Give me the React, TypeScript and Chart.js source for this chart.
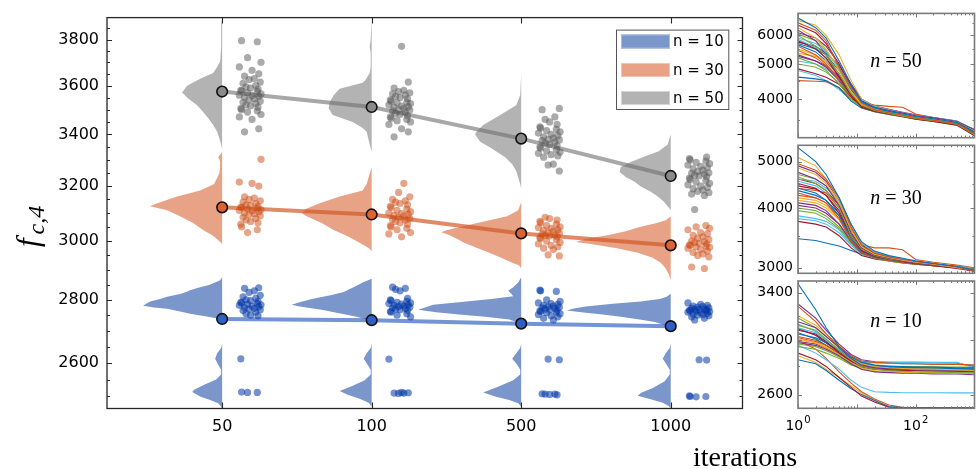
import React, { useEffect, useRef } from "react";
import { Chart, registerables } from "chart.js";
Chart.register(...registerables);
Chart.defaults.font.family = "DejaVu Sans";

const W = 978;
const H = 469;

// ---------------- main chart data ----------------
const ITERATIONS = ["50", "100", "500", "1000"];
const Y_TICKS = [2600, 2800, 3000, 3200, 3400, 3600, 3800];
const SERIES_LABELS = ["n = 10", "n = 30", "n = 50"];

const MEAN_N10 = [2738, 2734, 2723, 2715];
const MEAN_N30 = [3121, 3095, 3027, 2985];
const MEAN_N50 = [3575, 3511, 3383, 3238];

const RUNS_N50_IT50 = [3795, 3790, 3720, 3700, 3680, 3665, 3650, 3640, 3630, 3625, 3615, 3610, 3600, 3595, 3590, 3585, 3580, 3578, 3575, 3570, 3565, 3560, 3558, 3555, 3550, 3545, 3540, 3535, 3530, 3525, 3520, 3515, 3510, 3505, 3500, 3495, 3490, 3480, 3470, 3460, 3422, 3410];
const RUNS_N50_IT100 = [3770, 3615, 3590, 3580, 3575, 3570, 3565, 3560, 3555, 3550, 3545, 3540, 3535, 3530, 3528, 3525, 3520, 3515, 3512, 3510, 3505, 3500, 3498, 3495, 3490, 3485, 3480, 3475, 3470, 3465, 3460, 3455, 3450, 3440, 3422, 3410, 3390];
const RUNS_N50_IT500 = [3505, 3500, 3470, 3460, 3450, 3440, 3430, 3425, 3420, 3415, 3410, 3405, 3400, 3395, 3390, 3385, 3380, 3378, 3375, 3370, 3365, 3360, 3355, 3350, 3345, 3340, 3335, 3330, 3325, 3320, 3315, 3310, 3283, 3280, 3257];
const RUNS_N50_IT1000 = [3310, 3305, 3300, 3295, 3290, 3285, 3280, 3275, 3270, 3265, 3260, 3255, 3250, 3248, 3245, 3240, 3238, 3235, 3230, 3225, 3220, 3215, 3210, 3205, 3200, 3195, 3190, 3185, 3180, 3175, 3170, 3165, 3113];

const RUNS_N30_IT50 = [3302, 3215, 3210, 3200, 3160, 3155, 3150, 3145, 3140, 3135, 3130, 3128, 3125, 3122, 3120, 3118, 3115, 3112, 3110, 3108, 3105, 3100, 3098, 3095, 3090, 3085, 3080, 3075, 3070, 3065, 3060, 3050, 3040, 3030];
const RUNS_N30_IT100 = [3210, 3176, 3160, 3150, 3145, 3140, 3135, 3130, 3125, 3120, 3115, 3110, 3105, 3100, 3098, 3095, 3092, 3090, 3085, 3080, 3078, 3075, 3070, 3065, 3060, 3055, 3050, 3045, 3040, 3030, 3025, 3015];
const RUNS_N30_IT500 = [3085, 3080, 3075, 3070, 3065, 3060, 3055, 3050, 3048, 3045, 3040, 3038, 3035, 3030, 3028, 3025, 3022, 3020, 3018, 3015, 3012, 3010, 3005, 3000, 2995, 2990, 2985, 2980, 2975, 2970, 2952, 2948];
const RUNS_N30_IT1000 = [3055, 3050, 3045, 3040, 3030, 3025, 3020, 3015, 3010, 3005, 3000, 2998, 2995, 2992, 2990, 2987, 2985, 2982, 2980, 2978, 2975, 2970, 2965, 2960, 2955, 2950, 2945, 2910, 2905];

const RUNS_N10_IT50 = [2840, 2838, 2830, 2825, 2815, 2810, 2805, 2800, 2798, 2795, 2792, 2790, 2788, 2786, 2784, 2782, 2780, 2778, 2775, 2772, 2770, 2768, 2765, 2760, 2755, 2750, 2748, 2613, 2513, 2512, 2512];
const RUNS_N10_IT100 = [2842, 2838, 2835, 2830, 2805, 2800, 2798, 2795, 2792, 2790, 2788, 2786, 2784, 2782, 2780, 2778, 2776, 2774, 2772, 2770, 2768, 2765, 2762, 2760, 2755, 2750, 2745, 2612, 2512, 2511, 2510, 2510, 2509];
const RUNS_N10_IT500 = [2832, 2830, 2828, 2800, 2795, 2790, 2788, 2785, 2782, 2780, 2778, 2776, 2774, 2772, 2770, 2768, 2766, 2764, 2762, 2760, 2758, 2755, 2752, 2748, 2745, 2740, 2735, 2612, 2610, 2508, 2507, 2507, 2506, 2505];
const RUNS_N10_IT1000 = [2790, 2785, 2782, 2780, 2778, 2776, 2774, 2772, 2770, 2769, 2768, 2767, 2766, 2765, 2764, 2763, 2762, 2760, 2758, 2756, 2754, 2752, 2750, 2748, 2745, 2740, 2735, 2610, 2609, 2502, 2500, 2500, 2499];

// violin profiles: [value, density]
const VIOLIN_N50_IT50 = [[3900, 0], [3870, 1], [3769, 1], [3704, 2], [3680, 5], [3654, 9], [3629, 22], [3599, 35], [3571, 40], [3546, 34], [3518, 25], [3490, 19], [3466, 14], [3437, 9], [3410, 5], [3387, 3], [3360, 1], [3340, 0]];
const VIOLIN_N50_IT100 = [[3900, 0], [3800, 1], [3770, 2], [3740, 1], [3680, 1], [3654, 2], [3625, 6], [3612, 9], [3587, 32], [3560, 38], [3530, 42], [3506, 43], [3478, 39], [3450, 19], [3425, 9], [3410, 5], [3360, 2], [3330, 0]];
const VIOLIN_N50_IT500 = [[3650, 0], [3560, 1], [3518, 5], [3478, 21], [3437, 38], [3410, 45], [3398, 46], [3371, 41], [3348, 31], [3310, 16], [3283, 9], [3257, 5], [3208, 1], [3190, 0]];
const VIOLIN_N50_IT1000 = [[3400, 0], [3360, 3], [3333, 12], [3310, 28], [3291, 40], [3272, 50], [3253, 51], [3234, 45], [3216, 36], [3198, 30], [3179, 20], [3161, 13], [3142, 7], [3125, 3], [3110, 0]];

const VIOLIN_N30_IT50 = [[3330, 0], [3310, 4], [3295, 2], [3270, 2], [3246, 3], [3208, 8], [3183, 22], [3161, 45], [3136, 65], [3125, 72], [3110, 55], [3089, 42], [3064, 29], [3039, 19], [3019, 9], [2994, 1], [2985, 0]];
const VIOLIN_N30_IT100 = [[3270, 0], [3246, 2], [3208, 5], [3183, 9], [3161, 32], [3136, 52], [3115, 66], [3099, 70], [3089, 65], [3064, 50], [3039, 38], [3019, 25], [2994, 12], [2976, 3], [2965, 0]];
const VIOLIN_N30_IT500 = [[3140, 0], [3110, 3], [3089, 14], [3064, 44], [3039, 74], [3031, 80], [3021, 72], [3007, 64], [2994, 57], [2976, 44], [2959, 32], [2942, 20], [2925, 9], [2915, 2], [2905, 0]];
const VIOLIN_N30_IT1000 = [[3089, 0], [3074, 5], [3064, 14], [3049, 32], [3035, 45], [3021, 62], [3007, 85], [2997, 95], [2990, 80], [2976, 55], [2959, 33], [2942, 18], [2925, 10], [2905, 5], [2885, 2], [2865, 0]];

const VIOLIN_N10_IT50 = [[2875, 0], [2865, 2], [2849, 13], [2840, 24], [2832, 32], [2826, 36], [2819, 42], [2810, 55], [2803, 62], [2795, 72], [2787, 76], [2781, 79], [2775, 68], [2771, 55], [2762, 42], [2755, 32], [2745, 14], [2736, 0], [2660, 0], [2646, 1], [2630, 5], [2613, 7], [2595, 4], [2580, 1], [2565, 1], [2550, 6], [2535, 18], [2520, 28], [2513, 30], [2500, 22], [2490, 12], [2480, 4], [2470, 1], [2460, 0]];
const VIOLIN_N10_IT100 = [[2870, 0], [2858, 9], [2842, 18], [2836, 22], [2826, 28], [2816, 40], [2803, 60], [2792, 72], [2784, 80], [2778, 72], [2768, 50], [2755, 30], [2745, 15], [2735, 4], [2728, 0], [2660, 0], [2646, 1], [2630, 5], [2613, 8], [2595, 4], [2580, 1], [2565, 1], [2548, 7], [2530, 20], [2516, 32], [2505, 24], [2493, 12], [2482, 3], [2470, 0]];
const VIOLIN_N10_IT500 = [[2875, 0], [2858, 3], [2842, 8], [2830, 13], [2820, 10], [2812, 8], [2803, 30], [2795, 55], [2784, 88], [2768, 103], [2760, 85], [2752, 62], [2745, 36], [2736, 12], [2723, 0], [2660, 0], [2646, 1], [2630, 5], [2613, 9], [2595, 4], [2580, 1], [2565, 1], [2548, 8], [2530, 22], [2512, 38], [2500, 26], [2490, 12], [2480, 3], [2470, 0]];
const VIOLIN_N10_IT1000 = [[2820, 0], [2810, 4], [2803, 11], [2795, 30], [2787, 58], [2778, 85], [2771, 98], [2765, 104], [2758, 85], [2752, 68], [2745, 50], [2736, 31], [2728, 16], [2720, 8], [2708, 0], [2660, 0], [2646, 1], [2630, 5], [2613, 8], [2595, 4], [2580, 1], [2565, 1], [2545, 6], [2525, 18], [2510, 30], [2502, 33], [2492, 20], [2482, 8], [2472, 2], [2465, 0]];

// ---------------- inset panels data ----------------
const PANEL_ITERS = [1, 2, 3, 5, 8, 12, 20, 35, 60, 100, 200, 500, 1000];
const PANEL_X_TICKS = [1, 100];
const PANEL_X_EXPONENTS = ["0", "2"];

const CURVES_N50 = [
  [6700, 6300, 5900, 5100, 4400, 3950, 3780, 3700, 3640, 3580, 3530, 3450, 3250],
  [6500, 6200, 5800, 4900, 4300, 3900, 3740, 3670, 3610, 3550, 3500, 3420, 3210],
  [6300, 5900, 5500, 4800, 4200, 3870, 3760, 3690, 3630, 3570, 3520, 3450, 3260],
  [6100, 5900, 5600, 5000, 4350, 3950, 3800, 3720, 3660, 3600, 3550, 3470, 3290],
  [6000, 5600, 5300, 4700, 4150, 3850, 3720, 3650, 3590, 3540, 3490, 3410, 3190],
  [5900, 5700, 5400, 4900, 4300, 3980, 3820, 3740, 3670, 3610, 3560, 3480, 3300],
  [5800, 5500, 5200, 4600, 4100, 3800, 3700, 3640, 3580, 3520, 3470, 3390, 3170],
  [5700, 5500, 5300, 4800, 4250, 3920, 3770, 3700, 3640, 3580, 3520, 3440, 3240],
  [5600, 5300, 5000, 4550, 4100, 3850, 3730, 3660, 3600, 3550, 3500, 3420, 3230],
  [5500, 5300, 5100, 4700, 4200, 3900, 3790, 3720, 3650, 3590, 3540, 3460, 3270],
  [5300, 5100, 4900, 4500, 4100, 3830, 3710, 3640, 3580, 3530, 3480, 3400, 3200],
  [5200, 5000, 4800, 4400, 4000, 3800, 3690, 3630, 3570, 3520, 3470, 3390, 3180],
  [5100, 5000, 4850, 4550, 4150, 3880, 3750, 3680, 3620, 3560, 3510, 3430, 3250],
  [4850, 4700, 4600, 4400, 4050, 3820, 3720, 3650, 3600, 3540, 3490, 3410, 3220],
  [4600, 4550, 4500, 4300, 3950, 3780, 3690, 3630, 3580, 3530, 3480, 3410, 3230],
  [4500, 4480, 4470, 4300, 4000, 3900, 3850, 3820, 3800, 3640, 3560, 3470, 3260],
  [6600, 6400, 6000, 5300, 4500, 4000, 3820, 3730, 3660, 3600, 3545, 3465, 3280],
  [6200, 5800, 5300, 4650, 4150, 3880, 3760, 3690, 3630, 3570, 3520, 3440, 3250],
  [6050, 5800, 5450, 4850, 4250, 3930, 3790, 3710, 3650, 3590, 3540, 3460, 3240],
  [5850, 5550, 5150, 4700, 4200, 3900, 3760, 3680, 3620, 3560, 3510, 3430, 3210],
  [5750, 5600, 5350, 4950, 4400, 4000, 3830, 3750, 3680, 3620, 3560, 3480, 3280],
  [5650, 5400, 5100, 4650, 4150, 3870, 3740, 3670, 3610, 3560, 3510, 3440, 3260],
  [5450, 5200, 4950, 4550, 4100, 3860, 3740, 3670, 3610, 3555, 3505, 3425, 3240],
  [5350, 5250, 5050, 4650, 4200, 3920, 3780, 3710, 3640, 3580, 3530, 3450, 3270],
  [5250, 5100, 4950, 4600, 4150, 3890, 3760, 3690, 3630, 3570, 3520, 3440, 3230],
  [5000, 4900, 4750, 4450, 4080, 3860, 3740, 3670, 3610, 3550, 3500, 3420, 3220],
  [4800, 4650, 4500, 4250, 3980, 3800, 3710, 3650, 3600, 3545, 3495, 3415, 3200],
  [6400, 6100, 5700, 5000, 4350, 3960, 3800, 3720, 3660, 3600, 3550, 3470, 3290],
];

const CURVES_N30 = [
  [5350, 5000, 4700, 4200, 3700, 3400, 3250, 3180, 3140, 3100, 3060, 3020, 2960],
  [4950, 4800, 4600, 4200, 3650, 3350, 3220, 3160, 3120, 3090, 3060, 3010, 2950],
  [4850, 4700, 4500, 4100, 3600, 3320, 3200, 3150, 3110, 3080, 3050, 3000, 2960],
  [4750, 4600, 4450, 4050, 3550, 3300, 3190, 3140, 3100, 3070, 3040, 3000, 2970],
  [4650, 4500, 4350, 4000, 3500, 3280, 3180, 3130, 3100, 3070, 3040, 3010, 2980],
  [4600, 4550, 4400, 4150, 3700, 3380, 3230, 3160, 3120, 3090, 3060, 3020, 2990],
  [4500, 4400, 4250, 3900, 3500, 3260, 3170, 3130, 3090, 3060, 3030, 2990, 2950],
  [4400, 4300, 4150, 3850, 3450, 3250, 3160, 3120, 3090, 3060, 3040, 3000, 2970],
  [4300, 4200, 4100, 3800, 3400, 3230, 3150, 3110, 3080, 3050, 3030, 3000, 2960],
  [4200, 4150, 4050, 3800, 3450, 3280, 3190, 3150, 3110, 3080, 3050, 3010, 2980],
  [4100, 4050, 3950, 3700, 3400, 3220, 3150, 3110, 3080, 3060, 3040, 3010, 2990],
  [4000, 3950, 3850, 3650, 3380, 3210, 3140, 3100, 3070, 3050, 3030, 3000, 2970],
  [3850, 3800, 3750, 3600, 3350, 3200, 3150, 3110, 3080, 3060, 3040, 3010, 2980],
  [3750, 3700, 3650, 3500, 3300, 3180, 3130, 3100, 3070, 3050, 3030, 3000, 2960],
  [3450, 3420, 3380, 3330, 3260, 3200, 3150, 3110, 3080, 3060, 3040, 3020, 2990],
  [4400, 4350, 4300, 4000, 3600, 3350, 3300, 3300, 3270, 3120, 3080, 3040, 3000],
  [5100, 4900, 4600, 4150, 3650, 3380, 3240, 3170, 3130, 3090, 3060, 3010, 2960],
  [4900, 4750, 4550, 4150, 3620, 3340, 3210, 3150, 3110, 3080, 3050, 3005, 2950],
  [4700, 4600, 4450, 4100, 3600, 3330, 3200, 3150, 3110, 3080, 3050, 3010, 2970],
  [4550, 4450, 4300, 4000, 3550, 3310, 3190, 3140, 3100, 3070, 3045, 3005, 2960],
  [4450, 4380, 4250, 3950, 3520, 3290, 3180, 3130, 3100, 3070, 3040, 3000, 2975],
  [4350, 4250, 4150, 3900, 3500, 3280, 3170, 3130, 3095, 3065, 3040, 3005, 2965],
  [4250, 4200, 4100, 3850, 3480, 3270, 3170, 3125, 3090, 3060, 3035, 3000, 2960],
  [4150, 4100, 4000, 3780, 3450, 3260, 3165, 3120, 3090, 3065, 3045, 3010, 2980],
  [4050, 4000, 3900, 3700, 3420, 3240, 3160, 3115, 3085, 3060, 3040, 3005, 2970],
  [3950, 3900, 3800, 3620, 3380, 3220, 3150, 3110, 3080, 3055, 3035, 3000, 2965],
  [3800, 3760, 3700, 3550, 3340, 3200, 3140, 3105, 3075, 3055, 3035, 3005, 2975],
  [4600, 4500, 4350, 4050, 3600, 3350, 3220, 3160, 3120, 3085, 3055, 3015, 2985],
];

const CURVES_N10 = [
  [3480, 3250, 3100, 2950, 2870, 2830, 2810, 2800, 2800, 2795, 2795, 2790, 2790],
  [3280, 3150, 3050, 2950, 2880, 2840, 2830, 2825, 2820, 2820, 2815, 2815, 2810],
  [3200, 3120, 3050, 2960, 2870, 2820, 2800, 2790, 2785, 2780, 2780, 2775, 2770],
  [3150, 3100, 3030, 2940, 2860, 2810, 2790, 2780, 2780, 2775, 2775, 2770, 2765],
  [3120, 3080, 3010, 2920, 2850, 2800, 2780, 2770, 2765, 2760, 2760, 2755, 2755],
  [3100, 3060, 3000, 2930, 2870, 2840, 2830, 2830, 2830, 2830, 2830, 2830, 2790],
  [3080, 3050, 2990, 2900, 2840, 2800, 2780, 2775, 2770, 2770, 2765, 2765, 2760],
  [3050, 3020, 2980, 2920, 2860, 2820, 2800, 2795, 2790, 2790, 2785, 2785, 2780],
  [3020, 2990, 2960, 2900, 2840, 2800, 2790, 2785, 2780, 2780, 2780, 2775, 2775],
  [3000, 2980, 2950, 2890, 2830, 2790, 2770, 2765, 2760, 2755, 2755, 2750, 2750],
  [2980, 2960, 2930, 2880, 2820, 2780, 2760, 2755, 2750, 2750, 2745, 2745, 2740],
  [2950, 2930, 2900, 2860, 2810, 2790, 2780, 2775, 2770, 2770, 2770, 2765, 2765],
  [2960, 2900, 2850, 2780, 2700, 2650, 2620, 2615, 2613, 2613, 2613, 2612, 2612],
  [2900, 2850, 2800, 2720, 2650, 2590, 2550, 2515, 2512, 2512, 2511, 2511, 2510],
  [2850, 2820, 2770, 2700, 2640, 2600, 2560, 2520, 2513, 2512, 2512, 2511, 2511],
  [3000, 2930, 2860, 2760, 2680, 2620, 2570, 2530, 2514, 2513, 2512, 2512, 2511],
  [2880, 2830, 2780, 2720, 2660, 2610, 2560, 2518, 2512, 2511, 2511, 2510, 2510],
  [3300, 3180, 3080, 2970, 2890, 2850, 2835, 2830, 2830, 2830, 2828, 2826, 2800],
  [3180, 3100, 3030, 2950, 2870, 2830, 2810, 2805, 2800, 2800, 2798, 2796, 2795],
  [3130, 3070, 3000, 2920, 2850, 2810, 2795, 2790, 2788, 2786, 2785, 2783, 2782],
  [3090, 3040, 2980, 2910, 2850, 2815, 2800, 2795, 2792, 2790, 2788, 2786, 2785],
  [3060, 3010, 2960, 2890, 2830, 2795, 2780, 2775, 2772, 2770, 2768, 2766, 2765],
  [3030, 3000, 2960, 2900, 2845, 2810, 2795, 2790, 2788, 2786, 2785, 2783, 2782],
  [3010, 2980, 2940, 2880, 2825, 2785, 2765, 2760, 2757, 2755, 2753, 2752, 2750],
  [2990, 2970, 2940, 2890, 2840, 2805, 2790, 2786, 2784, 2782, 2781, 2780, 2778],
  [2970, 2950, 2920, 2870, 2815, 2780, 2765, 2760, 2757, 2755, 2753, 2750, 2748],
  [3100, 3040, 2980, 2900, 2850, 2830, 2825, 2822, 2820, 2818, 2816, 2814, 2812],
];

const LINE_COLORS = ["#0072BD", "#D95319", "#EDB120", "#7E2F8E", "#77AC30", "#4DBEEE", "#A2142F"];

// ---------------- styling ----------------
const PLOT_LEFT = 107;
const PLOT_RIGHT = 742.5;
const PLOT_TOP = 10.5;
const PLOT_BOTTOM = 408.5;
const VIOLIN_SCALE = 1 / 149.5;
const DOT_OFFSET = 0.19;
const JITTER = [-0.06, 0.045, -0.02, 0.07, -0.075, 0.01, 0.055, -0.04, 0.025, -0.01, 0.065, -0.05, 0.035, -0.03, 0.0, 0.05, -0.065];

const STYLE_N10 = { violin: "#7b96cb", edge: "#a9bce2", dot: "rgba(0,55,165,0.55)", line: "rgba(40,90,190,0.65)", mean: "#2f5fc0" };
const STYLE_N30 = { violin: "#e8a285", edge: "#f2c4b0", dot: "rgba(205,75,20,0.5)", line: "rgba(210,90,40,0.7)", mean: "#db6532" };
const STYLE_N50 = { violin: "#b3b3b3", edge: "#d4d4d4", dot: "rgba(85,85,85,0.5)", line: "rgba(110,110,110,0.6)", mean: "#8a8a8a" };

function buildMain(canvas: HTMLCanvasElement) {
  const groups = [
    { runs: [RUNS_N50_IT50, RUNS_N50_IT100, RUNS_N50_IT500, RUNS_N50_IT1000], violins: [VIOLIN_N50_IT50, VIOLIN_N50_IT100, VIOLIN_N50_IT500, VIOLIN_N50_IT1000], means: MEAN_N50, s: STYLE_N50 },
    { runs: [RUNS_N30_IT50, RUNS_N30_IT100, RUNS_N30_IT500, RUNS_N30_IT1000], violins: [VIOLIN_N30_IT50, VIOLIN_N30_IT100, VIOLIN_N30_IT500, VIOLIN_N30_IT1000], means: MEAN_N30, s: STYLE_N30 },
    { runs: [RUNS_N10_IT50, RUNS_N10_IT100, RUNS_N10_IT500, RUNS_N10_IT1000], violins: [VIOLIN_N10_IT50, VIOLIN_N10_IT100, VIOLIN_N10_IT500, VIOLIN_N10_IT1000], means: MEAN_N10, s: STYLE_N10 },
  ];
  const datasets: any[] = [];
  groups.forEach((g, gi) => {
    g.violins.forEach((pts, cat) => {
      datasets.push({
        type: "line",
        data: pts.map(([v, w]) => ({ x: cat - w * VIOLIN_SCALE, y: v })),
        fill: "shape",
        backgroundColor: g.s.violin,
        borderColor: "transparent",
        borderWidth: 0,
        pointRadius: 0,
        tension: 0,
        order: 30,
      });
    });
    datasets.push({
      type: "line",
      data: g.means.map((m, i) => ({ x: i, y: m })),
      borderColor: g.s.line,
      borderWidth: 4,
      pointRadius: 0,
      fill: false,
      tension: 0,
      order: 20,
    });
    g.runs.forEach((vals, cat) => {
      datasets.push({
        type: "scatter",
        data: vals.map((v, j) => ({ x: cat + DOT_OFFSET + JITTER[(j + cat * 5 + gi * 3) % JITTER.length], y: v })),
        backgroundColor: g.s.dot,
        borderWidth: 0,
        pointRadius: 3.6,
        order: 10,
      });
    });
    datasets.push({
      type: "scatter",
      data: g.means.map((m, i) => ({ x: i, y: m })),
      backgroundColor: g.s.mean,
      borderColor: "#111",
      borderWidth: 1.6,
      pointRadius: 5.3,
      order: 0,
    });
  });

  const framePlugin = {
    id: "mainFrame",
    afterDatasetsDraw(chart: any) {
      const { ctx, chartArea: a, scales } = chart;
      const x = scales.x;
      const y = scales.y;
      ctx.save();
      ctx.strokeStyle = "#262626";
      ctx.lineWidth = 1.1;
      ctx.beginPath();
      for (let v = 2450; v <= 3900; v += 50) {
        if (v < y.min || v > y.max) continue;
        const py = Math.round(y.getPixelForValue(v)) + 0.5;
        const len = Y_TICKS.includes(v) ? 5 : 3;
        ctx.moveTo(a.left, py);
        ctx.lineTo(a.left + len, py);
        ctx.moveTo(a.right, py);
        ctx.lineTo(a.right - len, py);
      }
      ITERATIONS.forEach((_, i) => {
        const px = Math.round(x.getPixelForValue(i)) + 0.5;
        ctx.moveTo(px, a.top);
        ctx.lineTo(px, a.top + 6);
        ctx.moveTo(px, a.bottom);
        ctx.lineTo(px, a.bottom - 6);
      });
      ctx.stroke();
      ctx.lineWidth = 1.3;
      ctx.strokeRect(a.left, a.top, a.right - a.left, a.bottom - a.top);

      // legend
      const lx = a.right - 126.5;
      const ly = a.top + 12;
      const lw = 112.3;
      const lh = 79.4;
      ctx.fillStyle = "#fff";
      ctx.fillRect(lx, ly, lw, lh);
      ctx.strokeStyle = "#555";
      ctx.lineWidth = 1;
      ctx.strokeRect(lx + 0.5, ly + 0.5, lw, lh);
      const styles = [STYLE_N10, STYLE_N30, STYLE_N50];
      const rows = [11.9, 40.4, 68.4];
      SERIES_LABELS.forEach((lab, i) => {
        const cy = ly + rows[i];
        ctx.fillStyle = styles[i].violin;
        ctx.fillRect(lx + 5, cy - 7, 49, 14);
        ctx.strokeStyle = styles[i].edge;
        ctx.strokeRect(lx + 5.5, cy - 6.5, 48, 13);
        ctx.fillStyle = "#000";
        ctx.font = '15px "DejaVu Sans"';
        ctx.textBaseline = "middle";
        ctx.textAlign = "left";
        ctx.fillText(lab, lx + 57, cy + 1);
      });

      // axis titles
      ctx.fillStyle = "#000";
      ctx.save();
      ctx.translate(38, 247);
      ctx.rotate(-Math.PI / 2);
      ctx.textBaseline = "alphabetic";
      ctx.textAlign = "left";
      ctx.font = 'italic 31px "Liberation Serif"';
      ctx.fillText("f", 0, 0);
      const fw = ctx.measureText("f").width;
      ctx.font = 'italic 24px "Liberation Serif"';
      ctx.fillText("c,4", fw + 4, 6);
      ctx.restore();

      ctx.font = '28px "Liberation Serif"';
      ctx.textAlign = "center";
      ctx.textBaseline = "alphabetic";
      ctx.fillText("iterations", 745, 466);
      ctx.restore();
    },
  };

  return new Chart(canvas, {
    type: "line",
    data: { datasets },
    options: {
      responsive: false,
      animation: false,
      events: [],
      layout: { padding: { left: 0, right: W - PLOT_RIGHT, top: PLOT_TOP, bottom: 0 } },
      plugins: { legend: { display: false }, tooltip: { enabled: false } },
      scales: {
        x: {
          type: "linear",
          min: -0.77,
          max: 3.48,
          grid: { display: false, drawTicks: false },
          border: { display: false },
          ticks: {
            padding: 9,
            autoSkip: false,
            maxRotation: 0,
            color: "#000",
            font: { size: 16, family: "DejaVu Sans" },
            callback: (v: any) => ITERATIONS[v] ?? "",
          },
          afterBuildTicks: (s: any) => {
            s.ticks = ITERATIONS.map((_, i) => ({ value: i }));
          },
          afterFit: (s: any) => {
            s.height = H - PLOT_BOTTOM;
          },
        },
        y: {
          type: "logarithmic",
          min: 2465,
          max: 3899,
          grid: { display: false, drawTicks: false },
          border: { display: false },
          ticks: {
            padding: 8,
            autoSkip: false,
            color: "#000",
            font: { size: 16, family: "DejaVu Sans" },
            callback: (v: any) => String(v),
          },
          afterBuildTicks: (s: any) => {
            s.ticks = Y_TICKS.map((v) => ({ value: v }));
          },
          afterFit: (s: any) => {
            s.width = PLOT_LEFT;
          },
        },
      },
    } as any,
    plugins: [framePlugin],
  });
}

type PanelSpec = {
  curves: number[][];
  label: string;
  top: number;
  bottom: number;
  yMin: number;
  yMax: number;
  yTicks: number[];
  yMinor: number[];
  showX: boolean;
  labelBaseline: number;
};

const PANEL_LEFT = 798;
const PANEL_RIGHT = 974.5;

const PANEL_N50: PanelSpec = { curves: CURVES_N50, label: "50", top: 10.7, bottom: 137.7, yMin: 3130, yMax: 6900, yTicks: [4000, 5000, 6000], yMinor: [3500, 4500, 5500, 6500], showX: false, labelBaseline: 66.5 };
const PANEL_N30: PanelSpec = { curves: CURVES_N30, label: "30", top: 145.3, bottom: 273.3, yMin: 2920, yMax: 5410, yTicks: [3000, 4000, 5000], yMinor: [3500, 4500], showX: false, labelBaseline: 204.3 };
const PANEL_N10: PanelSpec = { curves: CURVES_N10, label: "10", top: 281, bottom: 408.3, yMin: 2508, yMax: 3506, yTicks: [2600, 3000, 3400], yMinor: [2800, 3200], showX: true, labelBaseline: 326.5 };

function buildPanel(canvas: HTMLCanvasElement, p: PanelSpec) {
  const datasets = p.curves.map((curve, i) => ({
    type: "line",
    data: curve.map((v, j) => ({ x: PANEL_ITERS[j], y: v })),
    borderColor: LINE_COLORS[i % LINE_COLORS.length],
    borderWidth: 1.1,
    pointRadius: 0,
    tension: 0,
    fill: false,
  }));
  const xh = p.showX ? 30 : 0;
  const plugin = {
    id: "panelFrame",
    afterDatasetsDraw(chart: any) {
      const { ctx, chartArea: a, scales } = chart;
      const x = scales.x;
      const y = scales.y;
      ctx.save();
      ctx.strokeStyle = "#7a7a7a";
      ctx.lineWidth = 1;
      ctx.beginPath();
      [1, 10, 100].forEach((d) => {
        for (let m = 1; m < 10; m++) {
          const px = Math.round(x.getPixelForValue(d * m)) + 0.5;
          const len = m === 1 ? 4 : 2;
          ctx.moveTo(px, a.top);
          ctx.lineTo(px, a.top + len);
          ctx.moveTo(px, a.bottom);
          ctx.lineTo(px, a.bottom - len);
        }
      });
      [...p.yTicks.map((v) => [v, 4]), ...p.yMinor.map((v) => [v, 2])].forEach(([v, len]) => {
        if (v < p.yMin || v > p.yMax) return;
        const py = Math.round(y.getPixelForValue(v)) + 0.5;
        ctx.moveTo(a.left, py);
        ctx.lineTo(a.left + len, py);
        ctx.moveTo(a.right, py);
        ctx.lineTo(a.right - len, py);
      });
      ctx.stroke();
      ctx.lineWidth = 1.6;
      ctx.strokeRect(a.left, a.top, a.right - a.left, a.bottom - a.top);

      ctx.fillStyle = "#000";
      if (p.showX) {
        PANEL_X_TICKS.forEach((v, k) => {
          const px = x.getPixelForValue(v);
          ctx.font = '14px "DejaVu Sans"';
          const bw = ctx.measureText("10").width;
          ctx.font = '10px "DejaVu Sans"';
          const ew = ctx.measureText(PANEL_X_EXPONENTS[k]).width;
          const sx = px - (bw + ew + 1) / 2;
          ctx.textAlign = "left";
          ctx.textBaseline = "alphabetic";
          ctx.font = '14px "DejaVu Sans"';
          ctx.fillText("10", sx, a.bottom + 22);
          ctx.font = '10px "DejaVu Sans"';
          ctx.fillText(PANEL_X_EXPONENTS[k], sx + bw + 1, a.bottom + 15);
        });
      }

      ctx.textBaseline = "alphabetic";
      ctx.textAlign = "left";
      ctx.font = 'italic 20px "Liberation Serif"';
      const nw = ctx.measureText("n").width;
      ctx.font = '20px "Liberation Serif"';
      const rest = " = " + p.label;
      const rw = ctx.measureText(rest).width;
      const sx = 896 - (nw + rw) / 2;
      ctx.font = 'italic 20px "Liberation Serif"';
      ctx.fillText("n", sx, p.labelBaseline);
      ctx.font = '20px "Liberation Serif"';
      ctx.fillText(rest, sx + nw, p.labelBaseline);
      ctx.restore();
    },
  };
  return new Chart(canvas, {
    type: "line",
    data: { datasets } as any,
    options: {
      responsive: false,
      animation: false,
      events: [],
      layout: { padding: { left: PANEL_LEFT - 60, right: W - PANEL_RIGHT, top: p.top, bottom: H - p.bottom - xh } },
      plugins: { legend: { display: false }, tooltip: { enabled: false } },
      scales: {
        x: {
          type: "logarithmic",
          min: 1,
          max: 1000,
          grid: { display: false, drawTicks: false },
          border: { display: false },
          ticks: { display: false },
          afterBuildTicks: (s: any) => {
            s.ticks = PANEL_X_TICKS.map((v) => ({ value: v }));
          },
          afterFit: (s: any) => {
            s.height = xh;
          },
        },
        y: {
          type: "logarithmic",
          min: p.yMin,
          max: p.yMax,
          grid: { display: false, drawTicks: false },
          border: { display: false },
          ticks: {
            padding: 5,
            autoSkip: false,
            color: "#000",
            font: { size: 14, family: "DejaVu Sans" },
            callback: (v: any) => String(v),
          },
          afterBuildTicks: (s: any) => {
            s.ticks = p.yTicks.map((v) => ({ value: v }));
          },
          afterFit: (s: any) => {
            s.width = 60;
          },
        },
      },
    } as any,
    plugins: [plugin],
  });
}

function ChartCanvas({ build }: { build: (c: HTMLCanvasElement) => Chart }) {
  const ref = useRef<HTMLCanvasElement>(null);
  useEffect(() => {
    const ch = build(ref.current as HTMLCanvasElement);
    return () => ch.destroy();
  }, []);
  return (
    <canvas
      ref={ref}
      width={W}
      height={H}
      style={{ position: "absolute", left: 0, top: 0, width: W, height: H }}
    />
  );
}

export default function App() {
  return (
    <div style={{ position: "absolute", left: 0, top: 0, width: W, height: H, background: "#fff", overflow: "hidden" }}>
      <ChartCanvas build={buildMain} />
      <ChartCanvas build={(c) => buildPanel(c, PANEL_N50)} />
      <ChartCanvas build={(c) => buildPanel(c, PANEL_N30)} />
      <ChartCanvas build={(c) => buildPanel(c, PANEL_N10)} />
    </div>
  );
}
